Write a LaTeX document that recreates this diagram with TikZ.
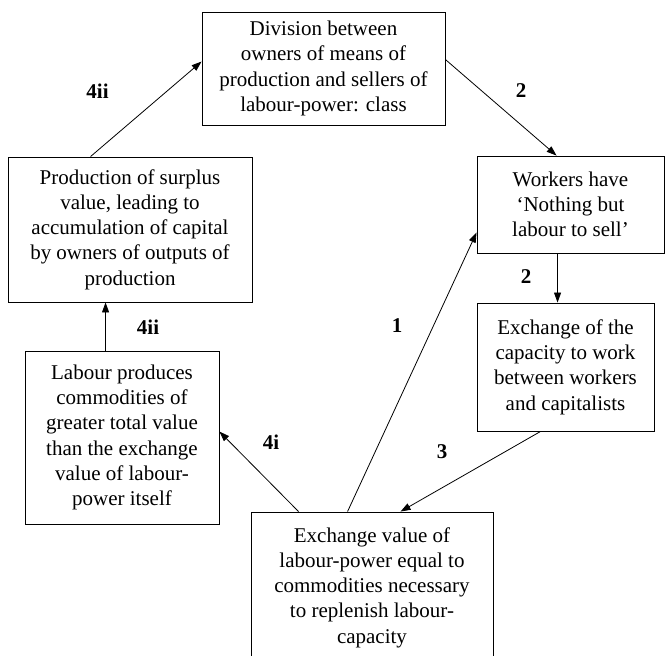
\documentclass[tikz,border=0pt]{standalone}
\usepackage{fontspec}
\setmainfont{Liberation Serif}
\usetikzlibrary{arrows.meta}
\begin{document}
\begin{tikzpicture}[x=1pt,y=-1pt,
  box/.style={draw,line width=0.9pt,inner sep=0pt,align=center,
    font=\fontsize{21}{25.3}\selectfont},
  conn/.style={line width=0.8pt,-{Triangle[length=10pt,width=7pt]}},
  lbl/.style={font=\fontsize{21}{25}\selectfont\bfseries,inner sep=0pt}]
\useasboundingbox (0,0) rectangle (665,656);
\clip (0,0) rectangle (665,656);
\node[box,minimum width=243pt,minimum height=113pt] (top) at (323.5,68.5)
  {Division between\\owners of means of\\production and sellers of\\labour-power: class};
\node[box,minimum width=187pt,minimum height=97pt] (wk) at (570.5,204.5)
  {Workers have\\‘Nothing but\\labour to sell’};
\node[box,minimum width=177pt,minimum height=128pt] (exch) at (565.5,367)
  {Exchange of the\\capacity to work\\between workers\\and capitalists};
\node[box,minimum width=242pt,minimum height=151pt] (bot) at (372,587.5)
  {Exchange value of\\labour-power equal to\\commodities necessary\\to replenish labour-\\capacity};
\node[box,minimum width=244pt,minimum height=145pt] (prod) at (130,229.5)
  {Production of surplus\\value, leading to\\accumulation of capital\\by owners of outputs of\\production};
\node[box,minimum width=194pt,minimum height=173pt] (lab) at (122,437.5)
  {Labour produces\\commodities of\\greater total value\\than the exchange\\value of labour-\\power itself};
\draw[conn] ([xshift=83pt]prod.north west) -- ([yshift=-50pt]top.north west);
\draw[conn] ([yshift=-48pt]top.north east) -- ([xshift=80pt]wk.north west);
\draw[conn] ([xshift=81pt]wk.south west) -- ([xshift=81pt]exch.north west);
\draw[conn] ([xshift=64pt]exch.south west) -- ([xshift=150pt]bot.north west);
\draw[conn] ([xshift=97pt]bot.north west) -- ([yshift=-77pt]wk.north west);
\draw[conn] ([xshift=48pt]bot.north west) -- ([yshift=-81pt]lab.north east);
\draw[conn] ([xshift=81pt]lab.north west) -- ([xshift=98pt]prod.south west);
\node[lbl] (l4iia) at (97.5,91) {4ii};
\node[lbl] (l2a) at (521,91) {2};
\node[lbl] (l2b) at (526,277) {2};
\node[lbl] (l4iib) at (148,327) {4ii};
\node[lbl] (l1) at (397,326) {1};
\node[lbl] (l4i) at (271,442) {4i};
\node[lbl] (l3) at (442,452) {3};
\end{tikzpicture}
\end{document}
